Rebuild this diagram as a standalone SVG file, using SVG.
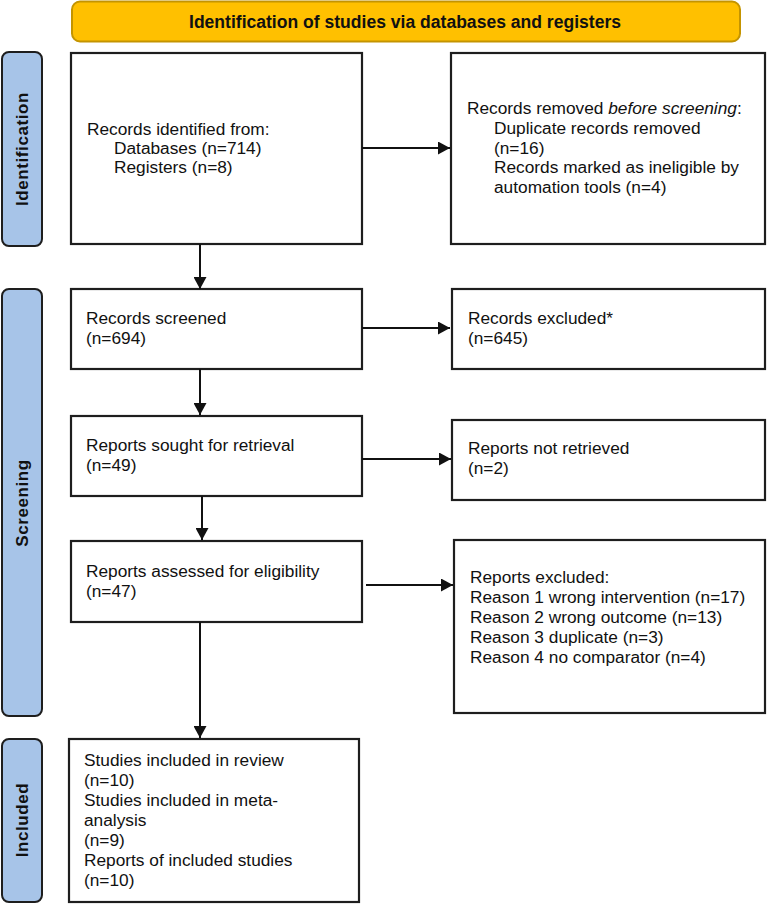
<svg xmlns="http://www.w3.org/2000/svg" width="767" height="904" viewBox="0 0 767 904">
<defs>
<style>
.box{fill:#fff;stroke:#1e1e1e;stroke-width:2.2}
.side{fill:#a7c4e8;stroke:#1e1e1e;stroke-width:2}
.t{font-family:"Liberation Sans",Arial,sans-serif;font-size:17.3px;fill:#111}
.lab{font-family:"Liberation Sans",Arial,sans-serif;font-size:17px;font-weight:bold;fill:#111;letter-spacing:0.6px}
.conn line{stroke:#111;stroke-width:2;marker-end:url(#ah)}
</style>
<marker id="ah" markerUnits="userSpaceOnUse" markerWidth="13" markerHeight="13" refX="12" refY="6.5" orient="auto">
<path d="M0,0 L12,6.5 L0,13 Z" fill="#111"/>
</marker>
</defs>
<rect width="767" height="904" fill="#fff"/>

<g id="title">
<rect x="72" y="1.5" width="668" height="40" rx="8" fill="#ffc000" stroke="#c49400" stroke-width="2"/>
<text x="405" y="28" text-anchor="middle" font-family="'Liberation Sans',Arial,sans-serif" font-size="18" font-weight="bold" fill="#111" textLength="432" lengthAdjust="spacingAndGlyphs">Identification of studies via databases and registers</text>
</g>

<g id="label-identification">
<rect class="side" x="2" y="52" width="40" height="194" rx="7"/>
<text class="lab" transform="translate(28,149) rotate(-90)" text-anchor="middle">Identification</text>
</g>
<g id="label-screening">
<rect class="side" x="2" y="289" width="40" height="427" rx="7"/>
<text class="lab" transform="translate(28,503) rotate(-90)" text-anchor="middle">Screening</text>
</g>
<g id="label-included">
<rect class="side" x="2" y="739" width="40" height="163" rx="7"/>
<text class="lab" transform="translate(28,820) rotate(-90)" text-anchor="middle">Included</text>
</g>

<g id="records-identified">
<rect class="box" x="71" y="53" width="291" height="191"/>
<text class="t" x="87" y="135">Records identified from:</text>
<text class="t" x="114" y="154">Databases (n=714)</text>
<text class="t" x="114" y="173">Registers (n=8)</text>
</g>

<g id="records-removed">
<rect class="box" x="451" y="53" width="314" height="191"/>
<text class="t" x="467" y="114">Records removed <tspan font-style="italic">before screening</tspan>:</text>
<text class="t" x="494" y="134">Duplicate records removed</text>
<text class="t" x="494" y="154">(n=16)</text>
<text class="t" x="494" y="173">Records marked as ineligible by</text>
<text class="t" x="494" y="193">automation tools (n=4)</text>
</g>

<g id="records-screened">
<rect class="box" x="71" y="289" width="291" height="80"/>
<text class="t" x="86" y="324">Records screened</text>
<text class="t" x="86" y="344">(n=694)</text>
</g>

<g id="records-excluded">
<rect class="box" x="452" y="289" width="313" height="80"/>
<text class="t" x="468" y="324">Records excluded*</text>
<text class="t" x="468" y="344">(n=645)</text>
</g>

<g id="reports-sought">
<rect class="box" x="71" y="416" width="291" height="80"/>
<text class="t" x="86" y="451">Reports sought for retrieval</text>
<text class="t" x="86" y="471">(n=49)</text>
</g>

<g id="reports-not-retrieved">
<rect class="box" x="452" y="420" width="313" height="80"/>
<text class="t" x="468" y="454">Reports not retrieved</text>
<text class="t" x="468" y="474">(n=2)</text>
</g>

<g id="reports-assessed">
<rect class="box" x="71" y="541" width="291" height="81"/>
<text class="t" x="86" y="577">Reports assessed for eligibility</text>
<text class="t" x="86" y="597">(n=47)</text>
</g>

<g id="reports-excluded">
<rect class="box" x="454" y="540" width="311" height="173"/>
<text class="t" x="470" y="583">Reports excluded:</text>
<text class="t" x="470" y="603">Reason 1 wrong intervention (n=17)</text>
<text class="t" x="470" y="623">Reason 2 wrong outcome (n=13)</text>
<text class="t" x="470" y="643">Reason 3 duplicate (n=3)</text>
<text class="t" x="470" y="663">Reason 4 no comparator (n=4)</text>
</g>

<g id="studies-included">
<rect class="box" x="69" y="739" width="290" height="163"/>
<text class="t" x="84" y="766">Studies included in review</text>
<text class="t" x="84" y="786">(n=10)</text>
<text class="t" x="84" y="806">Studies included in meta-</text>
<text class="t" x="84" y="826">analysis</text>
<text class="t" x="84" y="846">(n=9)</text>
<text class="t" x="84" y="866">Reports of included studies</text>
<text class="t" x="84" y="886">(n=10)</text>
</g>

<g id="connectors" class="conn">
<line x1="362" y1="148" x2="450" y2="148"/>
<line x1="200" y1="244" x2="200" y2="289"/>
<line x1="362" y1="328" x2="450" y2="328"/>
<line x1="200" y1="369" x2="200" y2="415"/>
<line x1="362" y1="459" x2="451" y2="459"/>
<line x1="202" y1="496" x2="202" y2="540"/>
<line x1="366" y1="585" x2="453" y2="585"/>
<line x1="200" y1="622" x2="200" y2="738"/>
</g>
</svg>
